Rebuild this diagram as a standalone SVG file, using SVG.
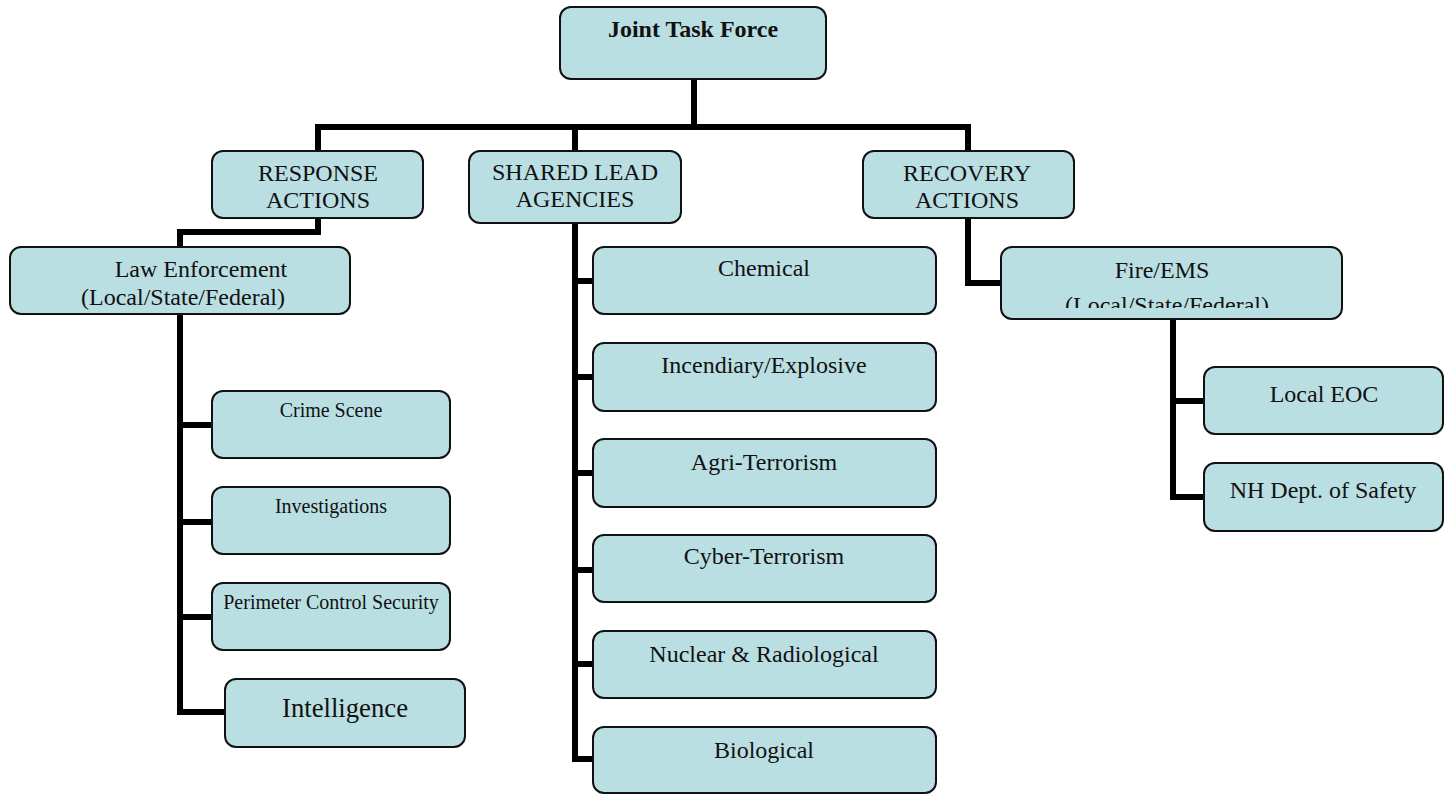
<svg xmlns="http://www.w3.org/2000/svg" width="1450" height="795" viewBox="0 0 1450 795">
<style>
.box{fill:#badfe3;stroke:#111;stroke-width:2}
.t{font-family:"Liberation Serif","Times New Roman",serif;fill:#111;text-anchor:middle}
.f24{font-size:24px}
.f20{font-size:20px}
.f27{font-size:26.7px}
.conn{fill:none;stroke:#000;stroke-width:6;stroke-linejoin:miter;stroke-linecap:butt}
</style>
<defs>
<clipPath id="fireclip"><rect x="1001" y="247" width="341" height="61"/></clipPath>
</defs>
<rect width="1450" height="795" fill="#fff"/>
<g id="connectors">
<path class="conn" d="M694,79 V127"/>
<path class="conn" d="M318,151 V127 H968 V151"/>
<path class="conn" d="M575,127 V151"/>
<path class="conn" d="M318,218 V232 H180 V247"/>
<path class="conn" d="M180,314 V712 H225"/>
<path class="conn" d="M180,425 H212 M180,522 H212 M180,617 H212"/>
<path class="conn" d="M575,223 V759 H593"/>
<path class="conn" d="M575,281 H593 M575,377 H593 M575,473 H593 M575,570 H593 M575,664 H593"/>
<path class="conn" d="M968,218 V283 H1001"/>
<path class="conn" d="M1173,319 V497 H1204 M1173,401 H1204"/>
</g>
<g id="joint"><rect class="box" x="560" y="7" width="266" height="72" rx="11"/><text class="t f24" x="693" y="37" font-weight="bold">Joint Task Force</text></g>
<g id="response"><rect class="box" x="212" y="151" width="211" height="67" rx="11"/><text class="t f24" x="318" y="181">RESPONSE</text><text class="t f24" x="318" y="208">ACTIONS</text></g>
<g id="shared"><rect class="box" x="469" y="151" width="212" height="72" rx="11"/><text class="t f24" x="575" y="180">SHARED LEAD</text><text class="t f24" x="575" y="207">AGENCIES</text></g>
<g id="recovery"><rect class="box" x="863" y="151" width="211" height="67" rx="11"/><text class="t f24" x="967" y="181">RECOVERY</text><text class="t f24" x="967" y="208">ACTIONS</text></g>
<g id="law"><rect class="box" x="10" y="247" width="340" height="67" rx="11"/><text class="t f24" x="201" y="277">Law Enforcement</text><text class="t f24" x="183" y="305">(Local/State/Federal)</text></g>
<g id="fire"><rect class="box" x="1001" y="247" width="341" height="72" rx="11"/><text class="t f24" x="1162" y="278">Fire/EMS</text><text class="t f24" x="1167" y="313" clip-path="url(#fireclip)">(Local/State/Federal)</text></g>
<g id="crime"><rect class="box" x="212" y="391" width="238" height="67" rx="11"/><text class="t f20" x="331" y="417">Crime Scene</text></g>
<g id="investigations"><rect class="box" x="212" y="487" width="238" height="67" rx="11"/><text class="t f20" x="331" y="513">Investigations</text></g>
<g id="perimeter"><rect class="box" x="212" y="583" width="238" height="67" rx="11"/><text class="t f20" x="331" y="609">Perimeter Control Security</text></g>
<g id="intelligence"><rect class="box" x="225" y="679" width="240" height="68" rx="11"/><text class="t f27" x="345" y="717">Intelligence</text></g>
<g id="chemical"><rect class="box" x="593" y="247" width="343" height="67" rx="11"/><text class="t f24" x="764" y="276">Chemical</text></g>
<g id="incendiary"><rect class="box" x="593" y="343" width="343" height="68" rx="11"/><text class="t f24" x="764" y="373">Incendiary/Explosive</text></g>
<g id="agri"><rect class="box" x="593" y="439" width="343" height="68" rx="11"/><text class="t f24" x="764" y="470">Agri-Terrorism</text></g>
<g id="cyber"><rect class="box" x="593" y="535" width="343" height="67" rx="11"/><text class="t f24" x="764" y="564">Cyber-Terrorism</text></g>
<g id="nuclear"><rect class="box" x="593" y="631" width="343" height="67" rx="11"/><text class="t f24" x="764" y="662">Nuclear &amp; Radiological</text></g>
<g id="biological"><rect class="box" x="593" y="727" width="343" height="66" rx="11"/><text class="t f24" x="764" y="758">Biological</text></g>
<g id="localeoc"><rect class="box" x="1204" y="367" width="239" height="67" rx="11"/><text class="t f24" x="1324" y="402">Local EOC</text></g>
<g id="nhdept"><rect class="box" x="1204" y="463" width="239" height="68" rx="11"/><text class="t f24" x="1323" y="498">NH Dept. of Safety</text></g>
</svg>
